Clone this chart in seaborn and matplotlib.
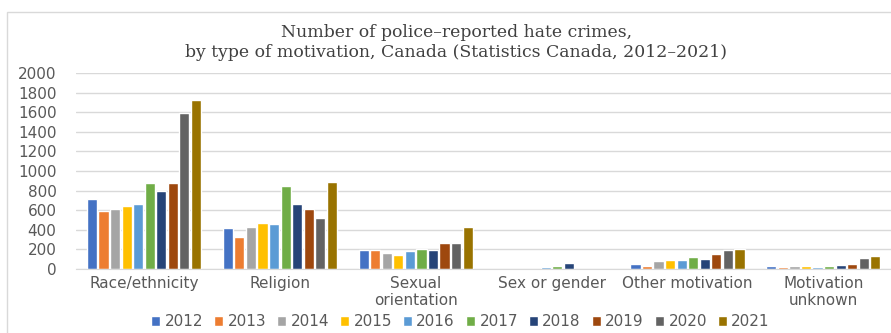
import numpy as np
import pandas as pd
import seaborn as sns
import matplotlib.pyplot as plt
from matplotlib.patches import Rectangle

# Data
categories = ['Race/ethnicity', 'Religion', 'Sexual\norientation', 'Sex or gender',
              'Other motivation', 'Motivation\nunknown']
years = ['2012', '2013', '2014', '2015', '2016', '2017', '2018', '2019', '2020', '2021']
race = [710, 590, 615, 645, 668, 880, 795, 880, 1590, 1720]
religion = [421, 330, 432, 474, 462, 843, 663, 612, 520, 887]
sexual = [190, 190, 163, 143, 180, 207, 190, 265, 265, 428]
sex_gender = [np.nan, np.nan, np.nan, np.nan, 24, 30, 60, np.nan, np.nan, np.nan]
other = [51, 27, 82, 88, 88, 119, 105, 156, 190, 204]
unknown = [27, 17, 27, 27, 20, 31, 37, 54, 112, 136]
colors = ['#4472C4', '#ED7D31', '#A5A5A5', '#FFC000', '#5B9BD5',
          '#70AD47', '#264478', '#9E480E', '#636363', '#997300']

series = [race, religion, sexual, sex_gender, other, unknown]
rows = []
for cat, vals in zip(categories, series):
    for yr, v in zip(years, vals):
        rows.append({'motivation': cat, 'year': yr, 'count': v})
df = pd.DataFrame(rows)

sns.set_style('white')
plt.rcParams['font.family'] = ['DejaVu Sans']

fig = plt.figure(figsize=(8.91, 3.33), dpi=100)
ax = fig.add_axes([0.0853, 0.192, 0.915, 0.589])

# light frame around the chart (right and bottom edges fall outside the picture)
fig.patches.append(Rectangle((7 / 891, -0.1), 1.1, 1 - 12 / 333 + 0.1,
                             transform=fig.transFigure, fill=False,
                             edgecolor='#D9D9D9', linewidth=1))

sns.barplot(data=df, x='motivation', y='count', hue='year', palette=colors,
            width=0.85, gap=0.12, errorbar=None, ax=ax, saturation=1)

ax.set_ylim(0, 2000)
ax.set_yticks(range(0, 2001, 200))
ax.set_xlim(-0.5, 5.5)
ax.yaxis.grid(True, color='#D9D9D9', linewidth=1)
ax.set_axisbelow(True)
for s in ['top', 'right', 'left']:
    ax.spines[s].set_visible(False)
ax.spines['bottom'].set_color('#D9D9D9')
ax.tick_params(axis='both', length=0, labelsize=11, colors='#595959', pad=5)
ax.tick_params(axis='y', pad=14)
ax.set_xlabel('')
ax.set_ylabel('')

fig.text(0.512, 1 - 57 / 333, 'Number of police\u2013reported hate crimes,\n'
         'by type of motivation, Canada (Statistics Canada, 2012\u20132021)',
         ha='center', va='baseline', fontsize=12.4, color='#404040',
         family=['DejaVu Serif'], linespacing=1.22)

handles, labels = ax.get_legend_handles_labels()
ax.get_legend().remove()
fig.legend(handles, labels, loc='center', bbox_to_anchor=(0.517, 1 - 322 / 333),
           ncol=10, frameon=False, fontsize=11, handlelength=0.55, handleheight=0.55,
           handletextpad=0.3, columnspacing=0.75, labelcolor='#595959',
           borderpad=0, borderaxespad=0)

fig.savefig('out.png', dpi=100)
